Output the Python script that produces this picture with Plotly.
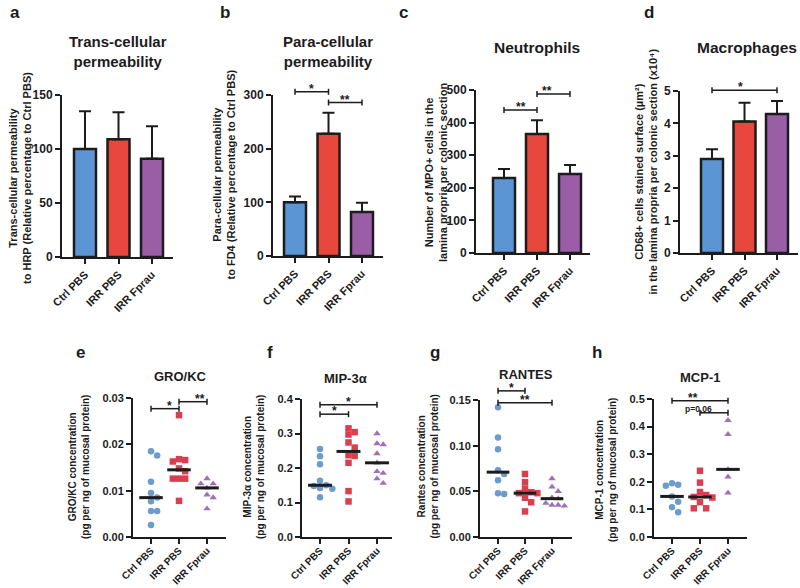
import numpy as np
import plotly.graph_objects as go

groups = ["Ctrl PBS", "IRR PBS", "IRR Fprau"]

# top row: bar heights and upper error
trans_mean = [100, 109, 91]
trans_err = [35, 25, 30]
para_mean = [100, 228, 82]
para_err = [11, 39, 17]
neutro_mean = [230, 365, 242]
neutro_err = [28, 42, 28]
macro_mean = [2.90, 4.06, 4.29]
macro_err = [0.30, 0.58, 0.40]

# bottom row: individual mice
grokc = [
    [0.0185, 0.0176, 0.0119, 0.0095, 0.0085, 0.0077, 0.0056, 0.0056, 0.0026],
    [0.0263, 0.0168, 0.0166, 0.0163, 0.0148, 0.0142, 0.0126, 0.0126, 0.0126, 0.0078],
    [0.0126, 0.0115, 0.0115, 0.0106, 0.0091, 0.0085, 0.0061],
]
mip3a = [
    [0.255, 0.234, 0.211, 0.163, 0.150, 0.148, 0.142, 0.140, 0.115],
    [0.315, 0.304, 0.297, 0.274, 0.259, 0.237, 0.235, 0.215, 0.133, 0.103],
    [0.300, 0.271, 0.268, 0.242, 0.215, 0.190, 0.185, 0.169, 0.156],
]
rantes = [
    [0.142, 0.109, 0.096, 0.073, 0.069, 0.062, 0.048, 0.047],
    [0.069, 0.060, 0.053, 0.049, 0.048, 0.048, 0.043, 0.038, 0.028],
    [0.064, 0.055, 0.050, 0.043, 0.042, 0.037, 0.035, 0.035, 0.034],
]
mcp1 = [
    [0.195, 0.189, 0.186, 0.147, 0.128, 0.108, 0.090],
    [0.240, 0.197, 0.163, 0.152, 0.145, 0.143, 0.126, 0.104, 0.104],
    [0.423, 0.372, 0.245, 0.218, 0.160],
]

# significance: (panel, group a, group b, height, label)
sig = [
    (2, 0, 1, 306, "*"), (2, 1, 2, 286, "**"),
    (3, 0, 1, 439, "**"), (3, 1, 2, 488, "**"),
    (4, 0, 2, 5.02, "*"),
    (5, 0, 1, 0.0277, "*"), (5, 1, 2, 0.0292, "**"),
    (6, 0, 1, 0.356, "*"), (6, 0, 2, 0.383, "*"),
    (7, 0, 1, 0.160, "*"), (7, 0, 2, 0.147, "**"),
    (8, 0, 2, 0.494, "**"), (8, 1, 2, 0.450, "p=0,06"),
]

W, H = 800, 588
FONT = "Liberation Sans, Arial, sans-serif"
INK = "#1c1c1c"
bar_colors = ["#5b95d3", "#e8473d", "#995ea6"]
dot_colors = ["#6c9ccc", "#d8404f", "#9d72b4"]
dot_symbols = ["circle", "square", "triangle-up"]

# pixel layout of each panel: axis box, first category, spacing
panels = {
    1: dict(l=62, r=173, t=95, b=257, c0=85, step=33.5, ymax=150, dtick=50, fmt="d", fs=12, xs=11, so=0),
    2: dict(l=273, r=383, t=95, b=256, c0=295, step=33.5, ymax=300, dtick=100, fmt="d", fs=12, xs=11, so=0),
    3: dict(l=476, r=590, t=90, b=253, c0=504, step=33, ymax=500, dtick=100, fmt="d", fs=12, xs=11, so=0),
    4: dict(l=680, r=798, t=91, b=253, c0=712, step=32.5, ymax=5, dtick=1, fmt="d", fs=12, xs=11, so=0),
    5: dict(l=133, r=226, t=398, b=537, c0=151, step=28, ymax=0.03, dtick=0.01, fmt=".2f", fs=11, xs=10, so=-3),
    6: dict(l=302, r=392, t=399, b=537, c0=320, step=28.5, ymax=0.4, dtick=0.1, fmt=".1f", fs=11, xs=10, so=-3),
    7: dict(l=480, r=572, t=400, b=537, c0=498, step=27, ymax=0.15, dtick=0.05, fmt=".2f", fs=11, xs=10, so=-3),
    8: dict(l=654, r=747, t=399, b=537, c0=672, step=28, ymax=0.5, dtick=0.1, fmt=".1f", fs=11, xs=10, so=-3),
}


def ref(n):
    return "" if n == 1 else str(n)


def to_paper(n, x, y):
    p = panels[n]
    px = p["c0"] + x * p["step"]
    py = p["b"] - y / p["ymax"] * (p["b"] - p["t"])
    return px / W, 1 - py / H


def swarm(values, step_px, ypx, size=6.5):
    placed = []
    xs = [0.0] * len(values)
    for k in np.argsort(values)[::-1]:
        yk = values[k] * ypx
        for m in [0, 1, -1, 2, -2, 3, -3]:
            xo = m * size * 0.95
            if all((xo - a) ** 2 + (yk - b) ** 2 >= (size * 0.95) ** 2 for a, b in placed):
                break
        placed.append((xo, yk))
        xs[k] = xo / step_px
    return xs


fig = go.Figure()
layout = dict(width=W, height=H, margin=dict(l=0, r=0, t=0, b=0, autoexpand=False),
              template="none",
              paper_bgcolor="white", plot_bgcolor="white", showlegend=False,
              font=dict(family=FONT, color=INK))

for n, p in panels.items():
    r = ref(n)
    layout["xaxis" + r] = dict(
        domain=[p["l"] / W, p["r"] / W], anchor="y" + r, automargin=False,
        range=[(p["l"] - p["c0"]) / p["step"], (p["r"] - p["c0"]) / p["step"]],
        tickvals=[0, 1, 2], ticktext=groups, tickangle=-45, ticklabelstandoff=p["so"],
        tickfont=dict(size=p["xs"], weight="bold", family=FONT, color=INK),
        showline=True, linewidth=2, linecolor=INK, ticks="outside", ticklen=5,
        tickwidth=2, tickcolor=INK, showgrid=False, zeroline=False)
    layout["yaxis" + r] = dict(
        domain=[1 - p["b"] / H, 1 - p["t"] / H], anchor="x" + r, automargin=False,
        range=[0, p["ymax"]], dtick=p["dtick"], tick0=0, tickformat=p["fmt"],
        tickfont=dict(size=p["fs"], weight="bold", family=FONT, color=INK),
        showline=True, linewidth=2, linecolor=INK, ticks="outside", ticklen=5,
        tickwidth=2, tickcolor=INK, showgrid=False, zeroline=False)

bar_data = {1: (trans_mean, trans_err), 2: (para_mean, para_err),
            3: (neutro_mean, neutro_err), 4: (macro_mean, macro_err)}
for n, (m, e) in bar_data.items():
    p = panels[n]
    fig.add_trace(go.Bar(
        x=[0, 1, 2], y=m, width=22 / p["step"],
        marker=dict(color=bar_colors, line=dict(color=INK, width=2.5)),
        error_y=dict(type="data", symmetric=False, array=e, arrayminus=[0, 0, 0],
                     color=INK, thickness=2, width=6),
        xaxis="x" + ref(n), yaxis="y" + ref(n)))

dot_data = {5: grokc, 6: mip3a, 7: rantes, 8: mcp1}
for n, sets in dot_data.items():
    p = panels[n]
    ypx = (p["b"] - p["t"]) / p["ymax"]
    for g, vals in enumerate(sets):
        offs = swarm(vals, p["step"], ypx)
        fig.add_trace(go.Scatter(
            x=[g + o for o in offs], y=vals, mode="markers",
            marker=dict(symbol=dot_symbols[g], color=dot_colors[g], size=6.5),
            xaxis="x" + ref(n), yaxis="y" + ref(n)))
    for g, vals in enumerate(sets):
        med = float(np.median(vals))
        fig.add_trace(go.Scatter(
            x=[g - 0.42, g + 0.42], y=[med, med], mode="lines",
            line=dict(color=INK, width=3),
            xaxis="x" + ref(n), yaxis="y" + ref(n)))

shapes = []
annotations = []
for n, a, b, y, lab in sig:
    xa, ya = to_paper(n, a, y)
    xb, _ = to_paper(n, b, y)
    shapes.append(dict(type="line", xref="paper", yref="paper", x0=xa, x1=xb, y0=ya, y1=ya,
                       line=dict(color=INK, width=1.5)))
    for xe in (xa, xb):
        shapes.append(dict(type="line", xref="paper", yref="paper", x0=xe, x1=xe,
                           y0=ya - 3 / H, y1=ya + 3 / H,
                           line=dict(color=INK, width=1.5)))
    small = lab.startswith("p")
    annotations.append(dict(x=(xa + xb) / 2, y=ya, xref="paper", yref="paper",
                            text=lab, showarrow=False, yanchor="bottom",
                            yshift=-6 if not small else -3,
                            font=dict(size=8.5 if small else 12, weight="bold", color=INK)))

letters = [("a", 15, 12), ("b", 225, 12), ("c", 403, 12), ("d", 649, 12),
           ("e", 80, 352), ("f", 270, 352), ("g", 435, 352), ("h", 597, 352)]
for t, x, y in letters:
    annotations.append(dict(x=x / W, y=1 - y / H, xref="paper", yref="paper", text=t,
                            showarrow=False, xanchor="center", yanchor="middle",
                            font=dict(size=17, weight="bold", color=INK)))

titles = [("Trans-cellular<br>permeability", 118, 51, 15),
          ("Para-cellular<br>permeability", 328, 51, 15),
          ("Neutrophils", 537, 48, 15.5),
          ("Macrophages", 747, 48, 15.5),
          ("GRO/KC", 180, 376, 13),
          ("MIP-3α", 345, 378, 13),
          ("RANTES", 526, 374, 13),
          ("MCP-1", 700, 377, 13)]
for t, x, y, s in titles:
    annotations.append(dict(x=x / W, y=1 - y / H, xref="paper", yref="paper", text=t,
                            showarrow=False, xanchor="center", yanchor="middle",
                            font=dict(size=s, weight="bold", color=INK)))

unit = "(pg per ng of mucosal protein)"
ytitles = [("Trans-cellular permeability<br>to HRP (Relative percentage to Ctrl PBS)", 20, 178, 11),
           ("Para-cellular permeability<br>to FD4 (Relative percentage to Ctrl PBS)", 223.5, 175, 11),
           ("Number of MPO+ cells in the<br>lamina propria per colonic section", 436, 173, 11),
           ("CD68+ cells stained surface (µm²)<br>in the lamina propria per colonic section (x10⁴)", 645.5, 172, 11),
           ("GRO/KC concentration<br>" + unit, 79, 467, 10),
           ("MIP-3α concentration<br>" + unit, 254, 467, 10),
           ("Rantes concentration<br>" + unit, 427.5, 467, 10),
           ("MCP-1 concentration<br>" + unit, 606, 470, 10)]
for t, x, y, s in ytitles:
    annotations.append(dict(x=x / W, y=1 - y / H, xref="paper", yref="paper", text=t,
                            showarrow=False, xanchor="center", yanchor="middle", textangle=-90,
                            font=dict(size=s, weight="bold", color=INK)))

layout["shapes"] = shapes
layout["annotations"] = annotations
fig.update_layout(**layout)
fig.write_html("out.html", config={"displayModeBar": False},
               post_script="document.body.style.margin='0';document.body.style.overflow='hidden';")
